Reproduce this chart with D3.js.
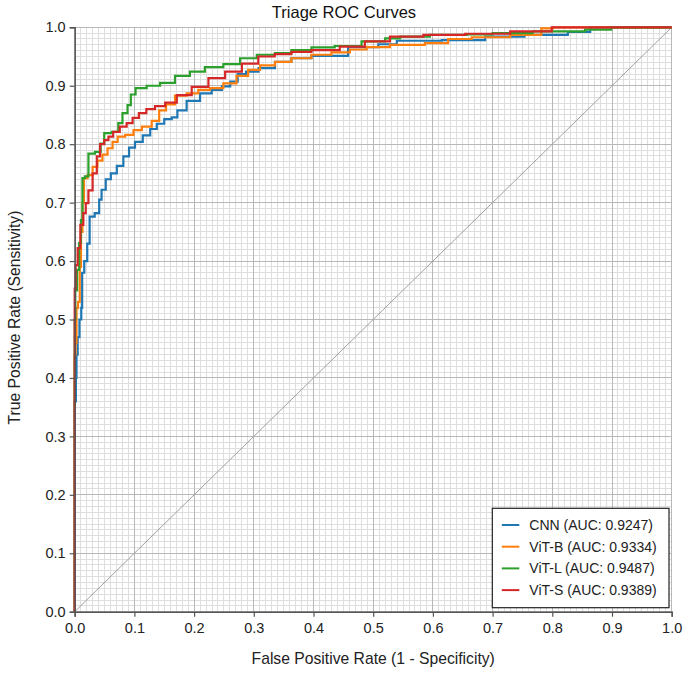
<!DOCTYPE html>
<html>
<head>
<meta charset="utf-8">
<script src="https://cdn.jsdelivr.net/npm/d3@7"></script>
<style>
  html, body { margin: 0; padding: 0; background: #fff; }
  svg { display: block; font-family: "Liberation Sans", Arial, Helvetica, sans-serif; }
</style>
</head>
<body>
<svg id="chart" width="688" height="673"></svg>
<script>
// ---- Data ----
const modelNames = ["CNN", "ViT-B", "ViT-L", "ViT-S"];
const aucValues = [0.9247, 0.9334, 0.9487, 0.9389];
const colors = ["#1f77b4", "#ff7f0e", "#2ca02c", "#d62728"];

const cnnFpr = [0, 0, 0.002, 0.002, 0.004, 0.006, 0.010, 0.012, 0.013, 0.019, 0.023, 0.027, 0.040, 0.042, 0.048, 0.056, 0.065, 0.076, 0.087, 0.095, 0.107, 0.121, 0.132, 0.143, 0.157, 0.168, 0.176, 0.199, 0.221, 0.238, 0.255, 0.266, 0.280, 0.294, 0.322, 0.349, 0.377, 0.416, 0.500, 0.517, 0.562, 0.668, 0.707, 0.800, 0.852, 0.875, 1.0];
const cnnTpr = [0, 0.36, 0.36, 0.40, 0.44, 0.47, 0.50, 0.52, 0.58, 0.60, 0.63, 0.676, 0.682, 0.705, 0.722, 0.740, 0.750, 0.763, 0.779, 0.794, 0.804, 0.815, 0.826, 0.835, 0.843, 0.846, 0.858, 0.874, 0.887, 0.893, 0.899, 0.907, 0.920, 0.924, 0.930, 0.941, 0.947, 0.951, 0.966, 0.971, 0.977, 0.978, 0.984, 0.987, 0.992, 1.0, 1.0];

const vitbFpr = [0, 0, 0.003, 0.003, 0.008, 0.009, 0.012, 0.014, 0.017, 0.026, 0.034, 0.042, 0.051, 0.059, 0.068, 0.076, 0.093, 0.104, 0.121, 0.137, 0.146, 0.160, 0.176, 0.199, 0.215, 0.238, 0.260, 0.282, 0.299, 0.322, 0.349, 0.377, 0.416, 0.444, 0.478, 0.500, 0.556, 0.617, 0.634, 0.696, 0.763, 0.800, 0.802, 1.0];
const vitbTpr = [0, 0.44, 0.46, 0.52, 0.53, 0.59, 0.65, 0.70, 0.742, 0.747, 0.761, 0.772, 0.782, 0.793, 0.804, 0.813, 0.816, 0.824, 0.830, 0.840, 0.858, 0.868, 0.883, 0.887, 0.893, 0.896, 0.904, 0.917, 0.927, 0.935, 0.941, 0.947, 0.953, 0.957, 0.962, 0.966, 0.970, 0.973, 0.980, 0.983, 0.987, 0.998, 1.0, 1.0];

const vitlFpr = [0, 0, 0.002, 0.006, 0.009, 0.012, 0.014, 0.020, 0.026, 0.042, 0.045, 0.054, 0.070, 0.076, 0.084, 0.093, 0.095, 0.109, 0.132, 0.154, 0.182, 0.204, 0.232, 0.266, 0.288, 0.322, 0.349, 0.377, 0.416, 0.455, 0.506, 0.534, 0.556, 0.634, 0.679, 0.721, 0.813, 0.897, 0.900, 1.0];
const vitlTpr = [0, 0.50, 0.55, 0.585, 0.631, 0.67, 0.742, 0.745, 0.784, 0.787, 0.801, 0.819, 0.821, 0.836, 0.853, 0.867, 0.885, 0.896, 0.900, 0.905, 0.917, 0.924, 0.932, 0.937, 0.947, 0.953, 0.956, 0.961, 0.9657, 0.968, 0.976, 0.981, 0.984, 0.987, 0.988, 0.990, 0.993, 0.996, 1.0, 1.0];

const vitsFpr = [0, 0, 0.003, 0.007, 0.012, 0.017, 0.020, 0.026, 0.034, 0.040, 0.045, 0.054, 0.059, 0.070, 0.081, 0.093, 0.101, 0.114, 0.126, 0.143, 0.160, 0.182, 0.210, 0.238, 0.266, 0.294, 0.321, 0.349, 0.377, 0.416, 0.472, 0.500, 0.556, 0.612, 0.696, 0.763, 0.835, 1.0];
const vitsTpr = [0, 0.553, 0.593, 0.622, 0.662, 0.682, 0.699, 0.721, 0.750, 0.779, 0.800, 0.807, 0.813, 0.821, 0.830, 0.836, 0.845, 0.853, 0.860, 0.865, 0.871, 0.884, 0.898, 0.913, 0.924, 0.938, 0.950, 0.954, 0.958, 0.961, 0.967, 0.976, 0.984, 0.987, 0.989, 0.993, 1.0, 1.0];

const fprSeries = [cnnFpr, vitbFpr, vitlFpr, vitsFpr];
const tprSeries = [cnnTpr, vitbTpr, vitlTpr, vitsTpr];

const titleText = "Triage ROC Curves";
const xLabel = "False Positive Rate (1 - Specificity)";
const yLabel = "True Positive Rate (Sensitivity)";

// ---- Layout ----
const W = 688, H = 673;
const margin = { left: 74.7, right: 16.3, top: 27.3, bottom: 61.3 };
const iw = W - margin.left - margin.right;
const ih = H - margin.top - margin.bottom;

const svg = d3.select("#chart");
const g = svg.append("g").attr("transform", `translate(${margin.left},${margin.top})`);

const x = d3.scaleLinear().domain([0, 1]).range([0, iw]);
const y = d3.scaleLinear().domain([0, 1]).range([ih, 0]);

// minor grid
const minorTicks = d3.range(0, 101).map(i => i / 100);
const majorTicks = d3.range(0, 11).map(i => i / 10);
const grid = g.append("g");
grid.selectAll("line.vminor").data(minorTicks).join("line")
  .attr("x1", d => x(d)).attr("x2", d => x(d)).attr("y1", 0).attr("y2", ih)
  .attr("stroke", "#dedede").attr("stroke-width", 1).attr("shape-rendering", "crispEdges");
grid.selectAll("line.hminor").data(minorTicks).join("line")
  .attr("y1", d => y(d)).attr("y2", d => y(d)).attr("x1", 0).attr("x2", iw)
  .attr("stroke", "#dedede").attr("stroke-width", 1).attr("shape-rendering", "crispEdges");
const grid2 = g.append("g");
grid2.selectAll("line.v").data(majorTicks).join("line")
  .attr("x1", d => x(d)).attr("x2", d => x(d)).attr("y1", 0).attr("y2", ih)
  .attr("stroke", "#b8b8b8").attr("stroke-width", 1).attr("shape-rendering", "crispEdges");
grid2.selectAll("line.h").data(majorTicks).join("line")
  .attr("y1", d => y(d)).attr("y2", d => y(d)).attr("x1", 0).attr("x2", iw)
  .attr("stroke", "#b8b8b8").attr("stroke-width", 1).attr("shape-rendering", "crispEdges");

// diagonal
g.append("line")
  .attr("x1", x(0)).attr("y1", y(0)).attr("x2", x(1)).attr("y2", y(1))
  .attr("stroke", "#a0a0a0").attr("stroke-width", 1);

// curves
const line = d3.line().x(d => x(d[0])).y(d => y(d[1])).curve(d3.curveStep);
modelNames.forEach((name, i) => {
  const pts = fprSeries[i].map((f, j) => [f, tprSeries[i][j]]);
  g.append("path").datum(pts)
    .attr("d", line)
    .attr("fill", "none")
    .attr("stroke", colors[i])
    .attr("stroke-width", 2.2)
    .attr("stroke-linejoin", "miter");
});

// axes
const fmt = d3.format(".1f");
const xAxis = g.append("g").attr("transform", `translate(0,${ih})`)
  .call(d3.axisBottom(x).tickValues(majorTicks).tickFormat(fmt).tickSize(5).tickPadding(6));
const yAxis = g.append("g")
  .call(d3.axisLeft(y).tickValues(majorTicks).tickFormat(fmt).tickSize(5).tickPadding(4));
[xAxis, yAxis].forEach(a => {
  a.select(".domain").attr("stroke", "#555").attr("stroke-width", 1.5);
  a.selectAll(".tick line").attr("stroke", "#555").attr("stroke-width", 1.2);
  a.selectAll(".tick text").attr("fill", "#222").attr("font-size", "14.5px")
    .attr("font-family", "'Liberation Sans', Arial, sans-serif");
});

// title + labels
svg.append("text").attr("x", W / 2).attr("y", 18.3).attr("text-anchor", "middle")
  .attr("font-size", "16.5px").attr("fill", "#111").text(titleText);
svg.append("text").attr("x", margin.left + iw / 2).attr("y", 664).attr("text-anchor", "middle")
  .attr("font-size", "15.7px").attr("fill", "#222").text(xLabel);
svg.append("text").attr("transform", `translate(20,${margin.top + ih / 2 - 2}) rotate(-90)`)
  .attr("text-anchor", "middle").attr("font-size", "15.7px").attr("fill", "#222").text(yLabel);

// legend
const lg = svg.append("g").attr("transform", "translate(492.3,508.3)");
lg.append("rect").attr("x", 0).attr("y", 0).attr("width", 176.7).attr("height", 99.4)
  .attr("fill", "#fff").attr("stroke", "#222").attr("stroke-width", 1.2);
modelNames.forEach((name, i) => {
  const row = lg.append("g").attr("transform", `translate(0,${16.7 + i * 21.7})`);
  row.append("line").attr("x1", 9.5).attr("x2", 27).attr("y1", 0).attr("y2", 0)
    .attr("stroke", colors[i]).attr("stroke-width", 2);
  row.append("text").attr("x", 37).attr("y", 5).attr("font-size", "14px").attr("fill", "#222")
    .text(`${name} (AUC: ${aucValues[i].toFixed(4)})`);
});
</script>
</body>
</html>
